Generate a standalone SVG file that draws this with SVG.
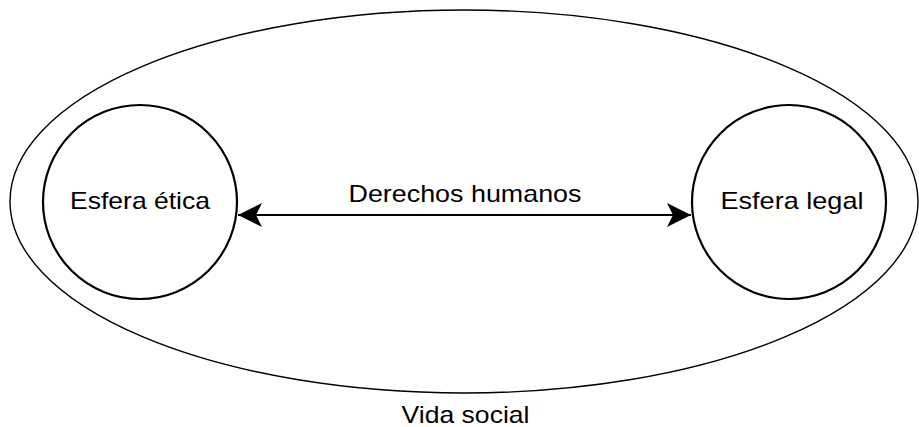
<svg xmlns="http://www.w3.org/2000/svg" width="919" height="427" viewBox="0 0 919 427">
<style>
text{font-family:"Liberation Sans",Arial,sans-serif;font-size:24px;fill:#000;text-anchor:middle}
.outer{fill:none;stroke:#000;stroke-width:1.4}
.sphere{fill:#fff;stroke:#000;stroke-width:2.2}
.conn{stroke:#000;stroke-width:2;fill:none}
</style>
<defs>
<marker id="ah" viewBox="0 0 24 24" refX="24" refY="12" markerWidth="24" markerHeight="24" markerUnits="userSpaceOnUse" orient="auto-start-reverse">
<path d="M24,12 L0,0 L6,12 L0,24 Z" fill="#000"/>
</marker>
</defs>
<rect width="919" height="427" fill="#fff"/>
<g id="vida-social">
<ellipse class="outer" cx="464" cy="201.5" rx="454" ry="191.5"/>
<text x="465.5" y="423" textLength="128" lengthAdjust="spacingAndGlyphs">Vida social</text>
</g>
<g id="connectors">
<line class="conn" x1="238" y1="215" x2="691" y2="215" marker-start="url(#ah)" marker-end="url(#ah)"/>
<text x="465" y="202" textLength="233" lengthAdjust="spacingAndGlyphs">Derechos humanos</text>
</g>
<g id="esfera-etica">
<circle class="sphere" cx="140" cy="202" r="97"/>
<text x="140" y="209" textLength="140" lengthAdjust="spacingAndGlyphs">Esfera ética</text>
</g>
<g id="esfera-legal">
<circle class="sphere" cx="789" cy="202" r="97"/>
<text x="792" y="209" textLength="143" lengthAdjust="spacingAndGlyphs">Esfera legal</text>
</g>
</svg>
